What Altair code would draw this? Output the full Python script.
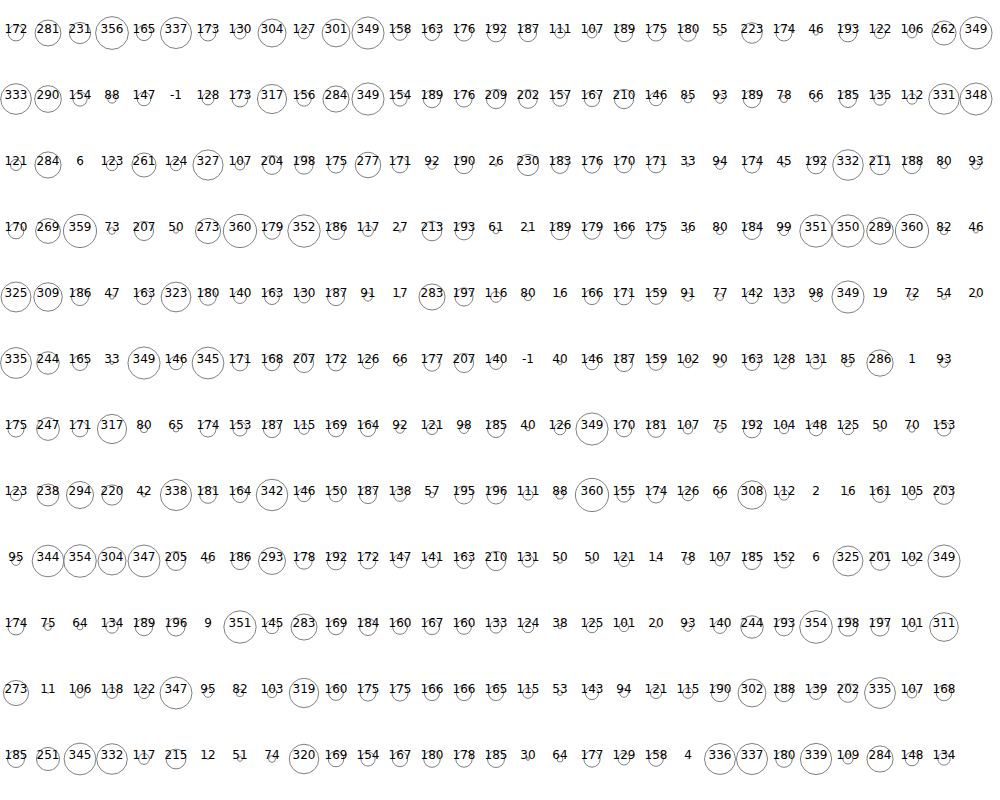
import altair as alt
import pandas as pd

row01 = [172, 281, 231, 356, 165, 337, 173, 130, 304, 127, 301, 349, 158, 163, 176, 192, 187, 111, 107, 189, 175, 180, 55, 223, 174, 46, 193, 122, 106, 262, 349]
row02 = [333, 290, 154, 88, 147, -1, 128, 173, 317, 156, 284, 349, 154, 189, 176, 209, 202, 157, 167, 210, 146, 85, 93, 189, 78, 66, 185, 135, 112, 331, 348]
row03 = [121, 284, 6, 123, 261, 124, 327, 107, 204, 198, 175, 277, 171, 92, 190, 26, 230, 183, 176, 170, 171, 33, 94, 174, 45, 192, 332, 211, 188, 80, 93]
row04 = [170, 269, 359, 73, 207, 50, 273, 360, 179, 352, 186, 117, 27, 213, 193, 61, 21, 189, 179, 166, 175, 36, 80, 184, 99, 351, 350, 289, 360, 82, 46]
row05 = [325, 309, 186, 47, 163, 323, 180, 140, 163, 130, 187, 91, 17, 283, 197, 116, 80, 16, 166, 171, 159, 91, 77, 142, 133, 98, 349, 19, 72, 54, 20]
row06 = [335, 244, 165, 33, 349, 146, 345, 171, 168, 207, 172, 126, 66, 177, 207, 140, -1, 40, 146, 187, 159, 102, 90, 163, 128, 131, 85, 286, 1, 93]
row07 = [175, 247, 171, 317, 80, 65, 174, 153, 187, 115, 169, 164, 92, 121, 98, 185, 40, 126, 349, 170, 181, 107, 75, 192, 104, 148, 125, 50, 70, 153]
row08 = [123, 238, 294, 220, 42, 338, 181, 164, 342, 146, 150, 187, 138, 57, 195, 196, 111, 88, 360, 155, 174, 126, 66, 308, 112, 2, 16, 161, 105, 203]
row09 = [95, 344, 354, 304, 347, 205, 46, 186, 293, 178, 192, 172, 147, 141, 163, 210, 131, 50, 50, 121, 14, 78, 107, 185, 152, 6, 325, 201, 102, 349]
row10 = [174, 75, 64, 134, 189, 196, 9, 351, 145, 283, 169, 184, 160, 167, 160, 133, 124, 38, 125, 101, 20, 93, 140, 244, 193, 354, 198, 197, 101, 311]
row11 = [273, 11, 106, 118, 122, 347, 95, 82, 103, 319, 160, 175, 175, 166, 166, 165, 115, 53, 143, 94, 121, 115, 190, 302, 188, 139, 202, 335, 107, 168]
row12 = [185, 251, 345, 332, 117, 215, 12, 51, 74, 320, 169, 154, 167, 180, 178, 185, 30, 64, 177, 129, 158, 4, 336, 337, 180, 339, 109, 284, 148, 134]

rows = [row01, row02, row03, row04, row05, row06, row07, row08, row09, row10, row11, row12]

records = []
for r, vals in enumerate(rows):
    for c, v in enumerate(vals):
        records.append({"row": r, "col": c, "value": v, "label": str(v)})
df = pd.DataFrame(records)

x = alt.X("col:O", axis=None, scale=alt.Scale(domain=list(range(31)), paddingInner=0, paddingOuter=0))
y = alt.Y("row:O", axis=None, scale=alt.Scale(domain=list(range(12)), paddingInner=0, paddingOuter=0))

base = alt.Chart(df).encode(x=x, y=y)

circles = base.mark_point(shape="circle", filled=False, stroke="#808080", strokeWidth=1, opacity=1).encode(
    size=alt.Size("value:Q", legend=None,
                  scale=alt.Scale(type="pow", exponent=2, domain=[0, 360], range=[0, 1100], clamp=True))
)

labels = base.mark_text(fontSize=12, font="DejaVu Sans", color="black", baseline="alphabetic", align="center").encode(
    text="label:N"
)

chart = (circles + labels).properties(
    width=992, height=792,
    padding={"left": -2, "top": 0, "right": 0, "bottom": 0},
).configure_view(stroke=None)

chart.save("out.html", embed_options={"renderer": "svg", "actions": False})
